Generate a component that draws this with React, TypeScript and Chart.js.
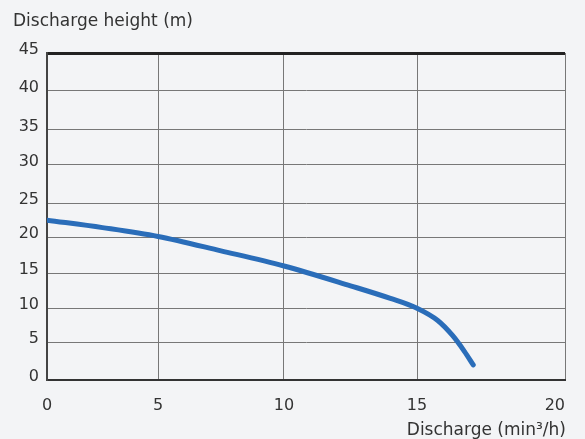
import React, { useEffect, useRef } from 'react';
import { Chart, LinearScale, registerables } from 'chart.js';

Chart.register(...registerables);

// ---- data ----
const dischargeValues = [0, 2.5, 5, 7.5, 10, 12.5, 14, 15, 15.7, 16.2, 16.6, 16.9];
const heightValues = [22.5, 21.4, 20.1, 18.1, 16, 13.2, 11.4, 10, 8.2, 6, 3.8, 2];
const xTickValues = [0, 5, 10, 15, 20];
const yTickValues = [0, 5, 10, 15, 20, 25, 30, 35, 40, 45];

const yTitle = 'Discharge height (m)';
const xTitle = 'Discharge (min³/h)';

// ---- axis warp: where each tick sits along its axis (fraction of axis length) ----
const xTickFractions = [0, 0.2143, 0.4575, 0.7143, 1];
const yTickFractions = [0, 0.1154, 0.2195, 0.3266, 0.4368, 0.5409, 0.6581, 0.7652, 0.8846, 1];

function interp(v: number, xs: number[], ys: number[]): number {
  const n = xs.length;
  let i = 0;
  if (v <= xs[0]) i = 0;
  else if (v >= xs[n - 1]) i = n - 2;
  else {
    while (i < n - 2 && v > xs[i + 1]) i++;
  }
  const t = (v - xs[i]) / (xs[i + 1] - xs[i]);
  return ys[i] + t * (ys[i + 1] - ys[i]);
}

class WarpedScale extends LinearScale {
  static id = 'warped';
  static defaults = LinearScale.defaults;

  warp(): [number[], number[]] {
    return this.axis === 'x' ? [xTickValues, xTickFractions] : [yTickValues, yTickFractions];
  }
  getPixelForValue(value: number): number {
    if (value === null || value === undefined || isNaN(value)) return NaN;
    const [vals, fr] = this.warp();
    return this.getPixelForDecimal(interp(value, vals, fr));
  }
  getValueForPixel(pixel: number): number {
    const [vals, fr] = this.warp();
    return interp(this.getDecimalForPixel(pixel), fr, vals);
  }
  _computeLabelItems(chartArea: any): any {
    // @ts-ignore
    const items = super._computeLabelItems(chartArea);
    if (this.isHorizontal() && items && items.length) {
      const last = items[items.length - 1];
      if (last && last.options) last.options.textAlign = 'right';
    }
    return items;
  }
}
Chart.register(WarpedScale as any);

const FONT = 'DejaVu Sans';

export default function App() {
  const ref = useRef<HTMLCanvasElement>(null);

  useEffect(() => {
    if (!ref.current) return;
    const bgPlugin = {
      id: 'bg',
      beforeDraw(chart: any) {
        const c = chart.ctx;
        c.save();
        c.fillStyle = '#f3f4f6';
        c.fillRect(0, 0, chart.width, chart.height);
        c.restore();
      },
      afterDraw(chart: any) {
        const c = chart.ctx;
        const area = chart.chartArea;
        c.save();
        c.fillStyle = '#333333';
        c.font = `17px "${FONT}"`;
        c.textBaseline = 'alphabetic';
        c.textAlign = 'left';
        c.fillText(yTitle, 13, 26);
        c.textAlign = 'right';
        c.fillText(xTitle, area.right + 1, 435);
        c.restore();
      },
    };

    const chart = new Chart(ref.current, {
      type: 'line',
      data: {
        datasets: [
          {
            data: dischargeValues.map((x, i) => ({ x, y: heightValues[i] })),
            borderColor: '#2a6db9',
            borderWidth: 5,
            borderCapStyle: 'round',
            borderJoinStyle: 'round',
            pointRadius: 0,
            fill: false,
            cubicInterpolationMode: 'monotone',
          },
        ],
      },
      options: {
        responsive: false,
        animation: false,
        layout: { padding: { top: 53, right: 20, left: 0, bottom: 0 } },
        plugins: { legend: { display: false }, tooltip: { enabled: false } },
        scales: {
          x: {
            type: 'warped' as any,
            min: 0,
            max: 20,
            ticks: {
              stepSize: 5,
              padding: 0,
              color: '#333333',
              font: { family: FONT, size: 16 },
              maxRotation: 0,
              autoSkip: false,
            },
            grid: {
              color: '#777777',
              lineWidth: 1,
              drawTicks: true,
              tickLength: 16,
              tickColor: 'rgba(0,0,0,0)',
            },
            border: { color: '#333333', width: 2 },
            afterFit: (s: any) => {
              s.height = 59;
            },
          } as any,
          y: {
            type: 'warped' as any,
            min: 0,
            max: 45,
            ticks: {
              stepSize: 5,
              padding: 8,
              labelOffset: -3,
              color: '#333333',
              font: { family: FONT, size: 16 },
              autoSkip: false,
            },
            grid: {
              color: (ctx: any) => (ctx.tick && ctx.tick.value === 45 ? '#222222' : '#777777'),
              lineWidth: (ctx: any) => (ctx.tick && ctx.tick.value === 45 ? 3 : 1),
              drawTicks: false,
            },
            border: { color: '#444444', width: 2 },
            afterFit: (s: any) => {
              s.width = 47;
            },
          } as any,
        },
      },
      plugins: [bgPlugin],
    });
    return () => chart.destroy();
  }, []);

  return (
    <div style={{ position: 'fixed', left: 0, top: 0, width: 585, height: 439, background: '#f3f4f6' }}>
      <canvas ref={ref} width={585} height={439} style={{ display: 'block', width: 585, height: 439 }} />
    </div>
  );
}
